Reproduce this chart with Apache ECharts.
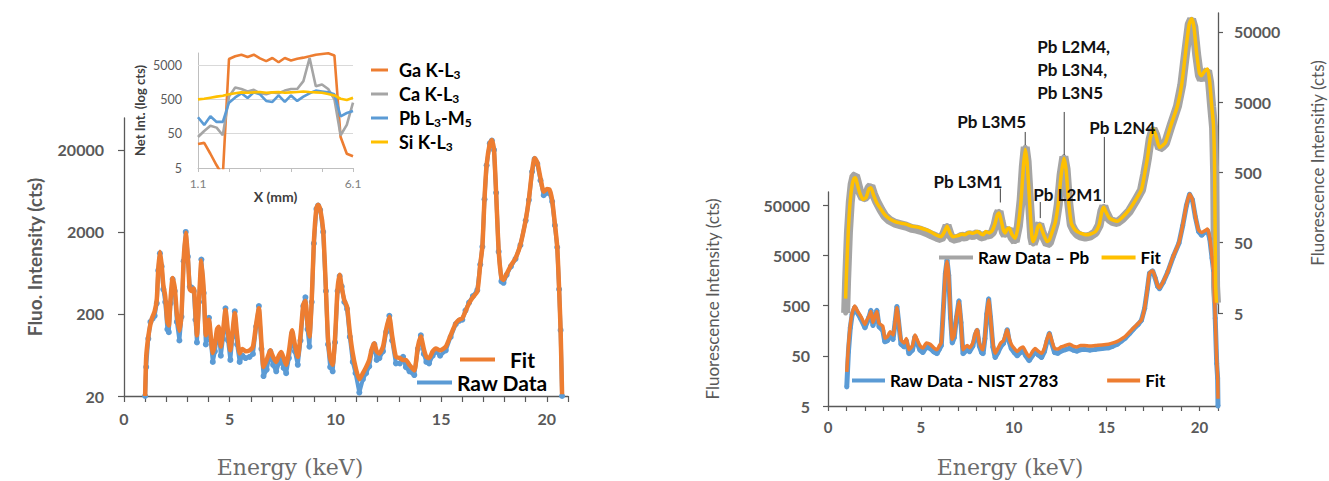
<!DOCTYPE html>
<html>
<head>
<meta charset="utf-8">
<title>XRF spectra</title>
<script src="https://cdn.jsdelivr.net/npm/echarts@6/dist/echarts.min.js"></script>
<style>
  html, body { margin: 0; padding: 0; background: #ffffff; }
  #chart { width: 1329px; height: 481px; }
</style>
</head>
<body>
<div id="chart"></div>
<script>
// ---------- Left panel: XRF spectrum (counts vs energy in keV) ----------
const leftEnergy = [1.00,1.05,1.15,1.25,1.35,1.45,1.55,1.62,1.70,1.78,1.86,1.95,2.05,2.12,2.20,2.30,2.40,2.50,2.62,2.72,
  2.82,2.92,3.02,3.11,3.20,3.30,3.38,3.45,3.55,3.66,3.77,3.87,3.95,4.02,4.10,4.20,4.30,4.40,4.48,4.58,
  4.68,4.80,4.92,5.03,5.13,5.24,5.35,5.47,5.60,5.75,5.94,6.10,6.25,6.38,6.50,6.60,6.75,6.92,7.05,7.20,
  7.32,7.44,7.55,7.67,7.80,7.95,8.08,8.22,8.35,8.48,8.58,8.68,8.77,8.88,8.98,9.10,9.18,9.28,9.42,9.55,
  9.65,9.75,9.87,9.98,10.10,10.20,10.30,10.42,10.55,10.68,10.82,10.95,11.13,11.30,11.45,11.60,11.72,11.84,11.95,12.08,
  12.25,12.40,12.55,12.68,12.86,13.05,13.20,13.33,13.50,13.73,13.90,14.04,14.18,14.30,14.43,14.60,14.75,14.95,15.22,15.45,
  15.69,15.85,16.00,16.15,16.32,16.50,16.71,16.85,16.95,17.05,17.15,17.30,17.40,17.50,17.60,17.72,17.85,17.95,18.10,18.30,
  18.52,18.75,19.00,19.15,19.30,19.42,19.55,19.70,19.85,20.00,20.12,20.25,20.38,20.49,20.58,20.65,20.72];
const leftFit = [20,60,106,150,185,215,300,700,1150,800,450,330,160,145,300,550,420,200,125,200,
  900,1950,1000,400,380,410,200,110,300,900,400,110,160,170,110,67,85,130,140,80,
  120,224,120,72,120,204,110,66,75,70,72,80,150,235,90,45,55,72,60,52,
  62,69,58,48,70,127,85,60,110,260,290,150,106,300,1500,3900,4300,3800,2100,400,
  100,58,48,100,400,600,420,296,245,120,66,45,32,38,45,55,75,88,70,66,
  80,130,185,110,60,58,55,55,48,41,80,106,75,60,58,70,76,72,80,110,
  154,170,177,215,270,320,375,800,1320,5000,13000,24000,26500,20000,6000,1200,550,520,620,780,
  960,1400,2800,5000,11000,15900,14000,9000,6200,6700,6600,4900,2500,1320,400,127,21];
const leftRaw = [20,45,100,160,175,190,270,680,1100,760,400,280,130,120,270,530,380,160,95,185,
  880,2000,1000,430,420,380,170,90,280,920,360,85,140,180,95,52,70,110,125,62,
  100,235,95,55,105,215,85,52,62,58,60,65,140,250,75,35,42,70,48,40,
  50,60,44,38,58,115,70,48,95,250,320,130,80,280,1450,3800,4200,3700,2000,380,
  85,45,40,90,380,580,430,280,230,105,52,38,22,32,38,46,70,85,55,58,
  70,120,190,95,50,50,60,45,40,36,75,110,65,52,50,62,70,62,72,105,
  150,165,170,220,275,330,390,800,1320,5000,13000,24000,26000,20000,6000,1150,500,480,600,760,
  940,1380,2750,4900,10800,15500,13500,8500,5600,6000,6000,4700,2400,1300,400,127,20];

// ---------- Inset: line scan, net intensity vs position (mm) ----------
const insetX  = [1.1,1.3,1.5,1.7,1.9,2.1,2.3,2.5,2.7,2.9,3.1,3.3,3.5,3.7,3.9,4.1,4.3,4.5,4.7,4.9,5.1,5.3,5.5,5.7,5.9,6.1];
const insetGa = [25,27,13,6,3,7500,9000,10000,8600,10000,7800,6500,8000,6000,8000,6800,7600,8200,9000,10000,10500,11000,9500,40,13,11];
const insetCa = [40,60,85,75,45,600,1100,1000,850,950,750,700,800,750,900,1000,1000,1700,8000,1200,1350,1000,500,45,90,400];
const insetPb = [150,90,160,110,110,400,570,750,550,800,700,450,420,650,420,650,450,600,750,900,850,800,700,160,200,230];
const insetSi = [500,520,560,600,640,700,750,800,780,800,820,780,800,820,780,800,820,850,820,800,780,720,650,520,480,560];

// ---------- Right panel, lower trace: NIST 2783 ----------
const nistEnergy = [1.01,1.10,1.20,1.30,1.44,1.60,1.77,1.99,2.10,2.20,2.31,2.42,2.52,2.63,2.75,2.95,3.06,3.20,3.35,3.50,
  3.62,3.71,3.80,3.93,4.10,4.22,4.36,4.55,4.68,4.80,4.95,5.11,5.30,5.50,5.70,5.87,6.00,6.10,6.22,6.32,
  6.41,6.50,6.60,6.69,6.80,6.92,7.05,7.16,7.27,7.40,7.50,7.62,7.80,7.93,8.03,8.15,8.27,8.35,8.45,8.55,
  8.65,8.75,8.88,9.00,9.15,9.30,9.45,9.58,9.65,9.76,9.87,10.03,10.19,10.35,10.50,10.65,10.83,11.00,11.15,11.32,
  11.50,11.65,11.80,11.92,12.05,12.20,12.38,12.55,12.78,13.00,13.20,13.40,13.60,13.80,14.10,14.40,14.75,15.10,15.35,15.58,
  15.80,16.00,16.25,16.45,16.70,16.88,17.05,17.20,17.31,17.48,17.62,17.75,17.85,18.05,18.30,18.60,18.90,19.10,19.30,19.47,
  19.62,19.78,19.95,20.12,20.30,20.44,20.56,20.68,20.76,20.85,20.93,20.98,21.00];
const nistFit = [24,80,200,350,490,380,306,210,260,300,380,230,300,380,220,195,112,120,150,130,
  250,450,260,105,90,110,66,80,130,105,80,71,90,85,72,66,80,90,500,2200,
  3800,2000,300,105,130,300,600,250,66,75,80,72,90,140,165,90,70,66,120,350,
  650,300,90,56,70,90,100,140,165,110,85,70,61,70,75,60,48,60,70,62,
  56,70,110,141,100,70,68,75,80,85,78,75,80,80,78,80,82,85,90,97,
  108,121,150,179,220,260,450,1100,2230,2450,1800,1250,1120,1500,2400,4900,9000,20000,50000,83000,
  65000,30000,16000,14200,15500,16600,11000,4500,2600,300,40,19,7];
const nistRaw = [12,60,180,330,460,350,270,180,230,290,400,200,280,400,190,160,95,100,130,105,
  240,480,240,85,75,100,55,65,120,90,65,58,75,70,60,55,68,80,480,2200,
  4000,2000,280,90,115,290,620,230,55,62,68,60,78,130,160,78,58,55,110,340,
  680,290,75,46,58,76,88,130,165,95,70,58,50,58,62,50,40,50,60,52,
  46,60,100,140,88,58,56,62,66,70,65,62,66,67,65,67,70,72,78,85,
  98,112,140,170,210,255,440,1080,2200,2450,1750,1200,1080,1450,2350,4800,8800,19500,49000,82000,
  64000,29000,15000,12500,14500,15500,10500,4400,2500,280,35,18,5];

// ---------- Right panel, upper trace: Pb ----------
const pbEnergy = [0.95,1.00,1.10,1.20,1.30,1.40,1.48,1.58,1.70,1.88,2.05,2.20,2.31,2.45,2.63,2.85,3.06,3.30,3.60,3.93,
  4.20,4.50,4.75,5.00,5.30,5.60,5.85,6.09,6.25,6.41,6.58,6.73,7.00,7.20,7.38,7.60,7.80,8.03,8.20,8.35,
  8.50,8.68,8.85,9.00,9.12,9.21,9.32,9.45,9.54,9.65,9.76,9.90,10.08,10.25,10.40,10.52,10.62,10.72,10.85,10.97,
  11.05,11.20,11.30,11.40,11.50,11.65,11.80,11.92,12.10,12.25,12.40,12.55,12.70,12.82,12.95,13.10,13.25,13.42,13.62,13.85,
  14.10,14.40,14.60,14.75,14.85,14.95,15.15,15.35,15.58,15.85,16.22,16.55,16.88,17.05,17.20,17.35,17.50,17.65,17.85,18.00,
  18.17,18.50,18.82,19.05,19.25,19.45,19.58,19.70,19.85,20.00,20.10,20.25,20.44,20.55,20.66,20.76,20.82,20.87,20.92];
const pbFit = [8,20,80,200,330,410,420,340,260,207,220,290,302,240,184,150,125,110,100,95,
  92,86,84,81,76,70,64,61,70,86,68,61,63,66,65,70,68,72,68,65,
  72,69,75,95,125,133,105,75,69,78,81,66,58,90,207,600,1070,700,200,65,
  52,65,85,90,78,62,52,55,75,100,180,450,800,550,200,95,80,72,68,65,
  66,72,90,140,160,140,112,105,101,115,148,200,286,480,800,1500,2070,1700,1130,1200,
  1330,2500,4450,9000,25000,65000,77000,60000,25000,13000,11900,13500,14800,10000,4500,2300,500,13,7];
const pbRaw = [5,14,70,190,340,440,450,360,270,215,225,300,320,245,190,148,120,105,95,90,
  86,80,78,75,70,64,60,57,68,88,64,56,58,62,60,65,63,68,62,60,
  66,64,70,90,125,140,100,70,64,74,78,60,52,86,205,620,1150,720,190,60,
  48,62,84,92,74,58,48,50,70,96,176,460,840,560,195,90,75,66,62,60,
  62,70,88,142,165,138,108,100,97,110,140,195,280,470,790,1500,2100,1700,1100,1170,
  1300,2450,4400,8800,24500,64000,76000,59000,24000,12000,10500,12500,14000,9600,4300,2200,480,12,7];

// ---------- Tick labels ----------
const leftTicks     = [20, 200, 2000, 20000];
const spectrumTicks = [5, 50, 500, 5000, 50000];
const insetTicks    = [5, 50, 500, 5000];
const energyLabels  = [0, 5, 10, 15, 20];
const insetXLabels  = [1.1, 6.1];

// ---------- Emission line annotations on the Pb trace ----------
const pbLineLabels = ['Pb L3M1', 'Pb L3M5', 'Pb L2M1', 'Pb L2M4,\nPb L3N4,\nPb L3N5', 'Pb L2N4'];
const pbLineEnergy = [9.28, 10.62, 11.43, 12.72, 14.88];

// ================= chart construction =================
const SANS = 'Lato, "Open Sans", sans-serif';
const AXIS = '#595959';
const LIGHT = '#bfbfbf';
const C_ORANGE = '#ED7D31', C_BLUE = '#5B9BD5', C_GREY = '#A5A5A5', C_YELLOW = '#FFC000';

// counts are shown on decade axes: position = log10(count / lowest tick)
const logOf = (v, base) => Math.log10(v / base);
const toPairs = (xs, vs, base, x0) => xs.map((x, i) => [x - (x0 || 0), logOf(vs[i], base)]);
const decades = ticks => ticks.map(t => logOf(t, ticks[0]));
const decadeLabel = ticks => v => {
  const i = Math.round(v);
  return Math.abs(v - i) < 1e-6 && ticks[i] != null ? String(ticks[i]) : '';
};
const energyTickPos = Array.from({ length: 22 }, (_, i) => i);

const chart = echarts.init(document.getElementById('chart'), null, { renderer: 'svg' });

const option = {
  animation: false,
  backgroundColor: '#ffffff',
  textStyle: { fontFamily: SANS },
  grid: [
    { left: 124, top: 118, width: 444, height: 278 },   // left spectrum
    { left: 198, top: 53, width: 155, height: 115 },    // inset line scan
    { left: 828, top: 192, width: 390, height: 214 },   // NIST 2783 trace
    { left: 828, top: 13, width: 390, height: 300 }     // Pb trace
  ],
  xAxis: [
    {
      type: 'value', gridIndex: 0, min: 0, max: 21, interval: 1,
      axisLine: { show: true, onZero: false, lineStyle: { color: AXIS, width: 1.3 } },
      axisTick: { show: true, length: 6, customValues: energyTickPos, lineStyle: { color: AXIS, width: 1.2 } },
      axisLabel: { customValues: energyLabels, margin: 14, color: AXIS, fontSize: 16, fontWeight: 'bold', fontFamily: SANS },
      splitLine: { show: false }
    },
    {
      type: 'value', gridIndex: 1, min: 0, max: 5, interval: 1,
      name: 'X (mm)', nameLocation: 'middle', nameGap: 14,
      nameTextStyle: { color: '#404040', fontSize: 14, fontWeight: 'bold', fontFamily: SANS },
      axisLine: { show: true, onZero: false, lineStyle: { color: LIGHT, width: 1 } },
      axisTick: { show: true, length: 4, lineStyle: { color: LIGHT } },
      axisLabel: {
        customValues: insetXLabels.map(v => v - insetX[0]),
        formatter: v => (v + insetX[0]).toFixed(1),
        margin: 9, color: '#7f7f7f', fontSize: 12, fontFamily: SANS
      },
      splitLine: { show: false }
    },
    {
      type: 'value', gridIndex: 2, min: 0, max: 21, interval: 1,
      axisLine: { show: true, onZero: false, lineStyle: { color: AXIS, width: 1.3 } },
      axisTick: { show: true, length: 5, customValues: energyTickPos, lineStyle: { color: AXIS, width: 1.2 } },
      axisLabel: { customValues: energyLabels, margin: 13, color: AXIS, fontSize: 15, fontWeight: 'bold', fontFamily: SANS },
      splitLine: { show: false }
    },
    { type: 'value', gridIndex: 3, min: 0, max: 21, show: false }
  ],
  yAxis: [
    {
      type: 'value', gridIndex: 0, min: 0, max: logOf(49000, leftTicks[0]), interval: 1,
      name: 'Fluo. Intensity (cts)', nameLocation: 'middle', nameGap: 80,
      nameTextStyle: { color: AXIS, fontSize: 19, fontWeight: 'bold', fontFamily: SANS },
      axisLine: { show: true, onZero: false, lineStyle: { color: AXIS, width: 1.3 } },
      axisTick: { show: true, length: 6, customValues: decades(leftTicks), lineStyle: { color: AXIS, width: 1.2 } },
      axisLabel: { customValues: decades(leftTicks), formatter: decadeLabel(leftTicks), margin: 20,
        color: AXIS, fontSize: 16, fontWeight: 'bold', fontFamily: SANS },
      splitLine: { show: false }
    },
    {
      type: 'value', gridIndex: 1, min: 0, max: logOf(11200, insetTicks[0]), interval: 1,
      name: 'Net Int. (log cts)', nameLocation: 'middle', nameGap: 52,
      nameTextStyle: { color: '#404040', fontSize: 13, fontWeight: 'bold', fontFamily: SANS },
      axisLine: { show: true, onZero: false, lineStyle: { color: LIGHT, width: 1 } },
      axisTick: { show: false, customValues: decades(insetTicks) },
      axisLabel: { customValues: decades(insetTicks), formatter: decadeLabel(insetTicks), margin: 16,
        color: AXIS, fontSize: 12.5, fontFamily: SANS },
      splitLine: { show: false }
    },
    {
      type: 'value', gridIndex: 2, min: 0, max: logOf(91000, spectrumTicks[0]), interval: 1,
      name: 'Fluorescence Intensity (cts)', nameLocation: 'middle', nameGap: 107,
      nameTextStyle: { color: AXIS, fontSize: 17, fontFamily: SANS },
      axisLine: { show: true, onZero: false, lineStyle: { color: AXIS, width: 1.3 } },
      axisTick: { show: true, length: 5, customValues: decades(spectrumTicks), lineStyle: { color: AXIS, width: 1.2 } },
      axisLabel: { customValues: decades(spectrumTicks), formatter: decadeLabel(spectrumTicks), margin: 18,
        color: AXIS, fontSize: 16, fontWeight: 'bold', fontFamily: SANS },
      splitLine: { show: false }
    },
    {
      type: 'value', gridIndex: 3, position: 'right', min: 0, max: logOf(93000, spectrumTicks[0]), interval: 1,
      name: 'Fluorescence Intensitiy (cts)', nameLocation: 'middle', nameGap: 91, nameRotate: 90,
      nameTextStyle: { color: AXIS, fontSize: 17, fontFamily: SANS },
      axisLine: { show: true, onZero: false, lineStyle: { color: AXIS, width: 1.3 } },
      axisTick: { show: true, length: 5, customValues: decades(spectrumTicks), lineStyle: { color: AXIS, width: 1.2 } },
      axisLabel: { customValues: decades(spectrumTicks), formatter: decadeLabel(spectrumTicks), margin: 16,
        color: AXIS, fontSize: 16, fontWeight: 'bold', fontFamily: SANS },
      splitLine: { show: false }
    }
  ],
  legend: [
    {
      data: ['Fit'], left: 460, top: 349, padding: 0, selectedMode: false,
      icon: 'rect', itemWidth: 35, itemHeight: 4,
      textStyle: { color: '#000', fontSize: 21, lineHeight: 20, fontWeight: 'bold', fontFamily: SANS, padding: [0, 0, 0, 10] }
    },
    {
      data: ['Raw Data'], left: 417, top: 372, padding: 0, selectedMode: false,
      icon: 'rect', itemWidth: 35, itemHeight: 4,
      textStyle: { color: '#000', fontSize: 21, lineHeight: 20, fontWeight: 'bold', fontFamily: SANS }
    },
    {
      data: ['Ga K-L3', 'Ca K-L3', 'Pb L3-M5', 'Si K-L3'], orient: 'vertical',
      left: 371, top: 61, padding: 0, itemGap: 5, selectedMode: false,
      icon: 'rect', itemWidth: 17, itemHeight: 3,
      formatter: name => name.replace(/(\d)/g, '{s|$1}'),
      textStyle: {
        color: '#000', fontSize: 18, fontWeight: 'bold', fontFamily: SANS, padding: [0, 0, 0, 6],
        rich: { s: { fontSize: 12, fontWeight: 'bold', fontFamily: SANS, color: '#000', padding: [8, 0, 0, 0] } }
      }
    },
    {
      data: ['Raw Data \u2013 Pb', 'Fit (Pb)'], left: 939, top: 249, padding: 0, itemGap: 12, selectedMode: false,
      icon: 'rect', itemWidth: 34, itemHeight: 4,
      formatter: name => name.replace(/ \(.*\)$/, ''),
      textStyle: { color: '#000', fontSize: 17, fontWeight: 'bold', fontFamily: SANS }
    },
    {
      data: ['Raw Data - NIST 2783', 'Fit (NIST)'], left: 852, top: 372, padding: 0, itemGap: 48, selectedMode: false,
      icon: 'rect', itemWidth: 33, itemHeight: 4,
      formatter: name => name.replace(/ \(.*\)$/, ''),
      textStyle: { color: '#000', fontSize: 17, fontWeight: 'bold', fontFamily: SANS }
    }
  ],
  series: [
    {
      name: 'Raw Data', type: 'line', xAxisIndex: 0, yAxisIndex: 0, z: 2,
      data: toPairs(leftEnergy, leftRaw, leftTicks[0]),
      color: C_BLUE, symbol: 'circle', symbolSize: 6, showSymbol: true,
      lineStyle: { width: 4, color: C_BLUE }, itemStyle: { color: C_BLUE }
    },
    {
      name: 'Fit', type: 'line', xAxisIndex: 0, yAxisIndex: 0, z: 3,
      data: toPairs(leftEnergy, leftFit, leftTicks[0]),
      color: C_ORANGE, showSymbol: false, smooth: 0.2,
      lineStyle: { width: 4.5, color: C_ORANGE }
    },
    // inset line scan
    ...[['Ga K-L3', insetGa, C_ORANGE], ['Ca K-L3', insetCa, C_GREY], ['Pb L3-M5', insetPb, C_BLUE], ['Si K-L3', insetSi, C_YELLOW]]
      .map(([name, vals, col], k) => ({
        name, type: 'line', xAxisIndex: 1, yAxisIndex: 1, z: 4 + k,
        data: toPairs(insetX, vals, insetTicks[0], insetX[0]),
        color: col, showSymbol: false, lineStyle: { width: 2.6, color: col },
        markLine: k === 0 ? {
          silent: true, symbol: 'none', label: { show: false }, z: 1,
          lineStyle: { color: '#d9d9d9', width: 1, type: 'solid' },
          data: decades(insetTicks).slice(1).map(v => ({ yAxis: v }))
        } : undefined
      })),
    {
      name: 'Raw Data - NIST 2783', type: 'line', xAxisIndex: 2, yAxisIndex: 2, z: 2,
      data: toPairs(nistEnergy, nistRaw, spectrumTicks[0]),
      color: C_BLUE, symbol: 'circle', symbolSize: 5, showSymbol: true,
      lineStyle: { width: 5, color: C_BLUE }, itemStyle: { color: C_BLUE }
    },
    {
      name: 'Fit (NIST)', type: 'line', xAxisIndex: 2, yAxisIndex: 2, z: 3,
      data: toPairs(nistEnergy, nistFit, spectrumTicks[0]),
      color: C_ORANGE, showSymbol: false, smooth: 0.2,
      lineStyle: { width: 3.5, color: C_ORANGE }
    },
    {
      name: 'Raw Data \u2013 Pb', type: 'line', xAxisIndex: 3, yAxisIndex: 3, z: 2,
      data: toPairs(pbEnergy, pbRaw, spectrumTicks[0]),
      color: C_GREY, symbol: 'circle', symbolSize: 5, showSymbol: true,
      lineStyle: { width: 9, color: C_GREY }, itemStyle: { color: C_GREY }
    },
    {
      name: 'Fit (Pb)', type: 'line', xAxisIndex: 3, yAxisIndex: 3, z: 3,
      data: toPairs(pbEnergy, pbFit, spectrumTicks[0]),
      color: C_YELLOW, showSymbol: false, smooth: 0.2,
      lineStyle: { width: 3.5, color: C_YELLOW }
    }
  ]
};

chart.setOption(option);

// leader lines + labels for the Pb emission lines (anchored in Pb-trace data space)
const leaderLayout = [
  { top: 296,  bottom: 187, align: 'right', valign: 'middle', dx: 2,   dy: -7 },
  { top: 1886, bottom: 1230, align: 'right', valign: 'middle', dx: 1,  dy: -10 },
  { top: 190,  bottom: 112, align: 'left',  valign: 'middle', dx: -7,  dy: -7 },
  { top: 3630, bottom: 887, align: 'left',  valign: 'bottom', dx: -27, dy: -8 },
  { top: 1600, bottom: 184, align: 'left',  valign: 'middle', dx: -15, dy: -9 }
];
const toPb = (e, v) => chart.convertToPixel({ xAxisIndex: 3, yAxisIndex: 3 }, [e, logOf(v, spectrumTicks[0])]);
const elements = [];
pbLineLabels.forEach((label, i) => {
  const L = leaderLayout[i];
  const a = toPb(pbLineEnergy[i], L.top);
  const b = toPb(pbLineEnergy[i], L.bottom);
  elements.push({
    type: 'line', silent: true, z: 20,
    shape: { x1: a[0], y1: a[1], x2: b[0], y2: b[1] },
    style: { stroke: '#404040', lineWidth: 1 }
  });
  elements.push({
    type: 'text', silent: true, z: 20, x: a[0] + L.dx, y: a[1] + L.dy,
    style: { text: label, align: L.align, verticalAlign: L.valign, lineHeight: 23,
      fontSize: 17, fontWeight: 'bold', fontFamily: SANS, fill: '#111111' }
  });
});
// shared energy-axis captions
[[290, 'Energy (keV)'], [1010, 'Energy (keV)']].forEach(([cx, t]) => {
  elements.push({
    type: 'text', silent: true, x: cx, y: 467,
    style: { text: t, align: 'center', verticalAlign: 'middle', fontSize: 22,
      fontFamily: '"DejaVu Serif", "Liberation Serif", serif', fill: '#6b6b6b' }
  });
});
chart.setOption({ graphic: { elements } });
</script>
</body>
</html>
